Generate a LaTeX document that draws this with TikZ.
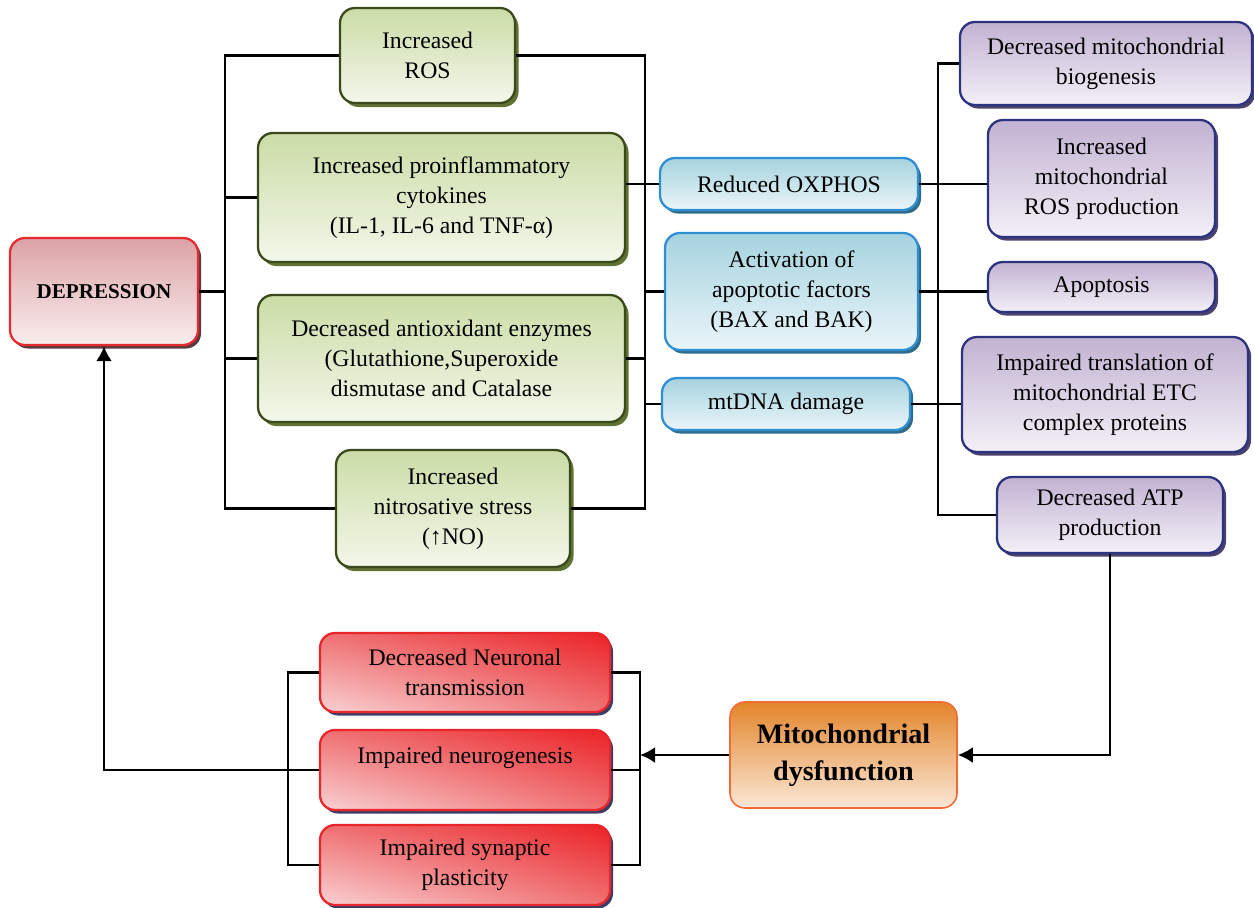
\documentclass[tikz,border=0pt]{standalone}
\usepackage{fontspec}
\setmainfont{Liberation Serif}
\usepackage{tikz}
\usetikzlibrary{arrows.meta,shadows,shadings}
\definecolor{grnline}{HTML}{3A4A1C}
\definecolor{grntop}{HTML}{CBDCA6}
\definecolor{grnbot}{HTML}{F3F7EA}
\definecolor{grnshad}{HTML}{5F7232}
\definecolor{bluline}{HTML}{2F8FD4}
\definecolor{blutop}{HTML}{A6D3DF}
\definecolor{blubot}{HTML}{EAF5F9}
\definecolor{blushad}{HTML}{2F6C8A}
\definecolor{purline}{HTML}{2C3480}
\definecolor{purtop}{HTML}{C2B2D2}
\definecolor{purbot}{HTML}{F3F0F7}
\definecolor{purshad}{HTML}{4B416E}
\definecolor{depline}{HTML}{E52A30}
\definecolor{deptop}{HTML}{DCA2A5}
\definecolor{depbot}{HTML}{F9EEEF}
\definecolor{depshad}{HTML}{5A3B3D}
\definecolor{redline}{HTML}{E8262B}
\definecolor{reddark}{HTML}{EC2227}
\definecolor{redmid}{HTML}{EF7173}
\definecolor{redlight}{HTML}{F9D2D4}
\definecolor{redshad}{HTML}{3E3D66}
\definecolor{orgline}{HTML}{F26A35}
\definecolor{orgtop}{HTML}{E3852A}
\definecolor{orgbot}{HTML}{FBE7D6}
\tikzset{
  box/.style={rounded corners=3mm, line width=1.3pt, align=center, inner sep=2pt,
    font=\fontsize{13.5}{17}\selectfont},
  gbox/.style={box, draw=grnline, top color=grntop, bottom color=grnbot,
    drop shadow={shadow xshift=0.7mm, shadow yshift=-0.8mm, fill=grnshad, opacity=1}},
  bbox/.style={box, draw=bluline, top color=blutop, bottom color=blubot,
    drop shadow={shadow xshift=0.6mm, shadow yshift=-0.7mm, fill=blushad, opacity=1}},
  pbox/.style={box, draw=purline, top color=purtop, bottom color=purbot,
    drop shadow={shadow xshift=0.6mm, shadow yshift=-0.7mm, fill=purshad, opacity=1}},
  depbox/.style={box, draw=depline, top color=deptop, bottom color=depbot,
    font=\fontsize{12}{15}\selectfont\bfseries,
    drop shadow={shadow xshift=0.6mm, shadow yshift=-0.7mm, fill=depshad, opacity=1}},
  rbox/.style={box, draw=redline, upper right=reddark, upper left=redmid,
    lower right=redmid, lower left=redlight,
    drop shadow={shadow xshift=0.6mm, shadow yshift=-0.7mm, fill=redshad, opacity=1}},
  obox/.style={box, line width=0.9pt, draw=orgline, top color=orgtop, bottom color=orgbot,
    font=\fontsize{16}{21}\selectfont\bfseries},
  link/.style={line width=1.4pt},
  arr/.style={link, -{Latex[length=3mm,width=3.2mm]}}
}

\begin{document}
\begin{tikzpicture}[x=0.2mm,y=-0.2mm]
  \useasboundingbox (0,0) rectangle (1254,907);

  % causes
  \node[depbox, minimum width=37.6mm, minimum height=21.4mm] (dep) at (104,291.5) {DEPRESSION};
  \node[gbox, minimum width=35mm, minimum height=19mm] (ros) at (427.5,55.5) {Increased\\ROS};
  \node[gbox, minimum width=73.4mm, minimum height=25.8mm] (cyt) at (441.5,197.5)
    {Increased proinflammatory\\cytokines\\(IL-1, IL-6 and TNF-α)};
  \node[gbox, minimum width=73.4mm, minimum height=25.4mm] (antiox) at (441.5,358.5)
    {Decreased antioxidant enzymes\\(Glutathione,Superoxide\\dismutase and Catalase};
  \node[gbox, minimum width=46.8mm, minimum height=23.4mm] (nitro) at (453,508.5)
    {Increased\\nitrosative stress\\(\textbf{↑}NO)};

  % mitochondrial effects
  \node[bbox, minimum width=51.6mm, minimum height=10.4mm] (oxphos) at (789,184) {Reduced OXPHOS};
  \node[bbox, minimum width=50.6mm, minimum height=23.4mm] (act) at (791.5,291.5)
    {Activation of\\apoptotic factors\\(BAX and BAK)};
  \node[bbox, minimum width=49.6mm, minimum height=10.4mm] (mtdna) at (786,404) {mtDNA damage};

  \node[pbox, minimum width=58.4mm, minimum height=16.6mm] (bio) at (1106,63.5)
    {Decreased mitochondrial\\biogenesis};
  \node[pbox, minimum width=45.4mm, minimum height=23.4mm] (rosprod) at (1101.5,178.5)
    {Increased\\mitochondrial\\ROS production};
  \node[pbox, minimum width=45.4mm, minimum height=10mm] (apop) at (1101.5,287) {Apoptosis};
  \node[pbox, minimum width=57.2mm, minimum height=23mm] (transl) at (1105,394.5)
    {Impaired translation of\\mitochondrial ETC\\complex proteins};
  \node[pbox, minimum width=45.2mm, minimum height=15.2mm] (atp) at (1110,515)
    {Decreased ATP\\production};

  \node[obox, minimum width=45.4mm, minimum height=21.2mm] (mito) at (843.5,755)
    {Mitochondrial\\dysfunction};

  % neuronal outcomes
  \node[rbox, minimum width=58mm, minimum height=15.8mm] (neu) at (465,672.5)
    {Decreased Neuronal\\transmission};
  \node[rbox, minimum width=58mm, minimum height=16mm] (gen) at (465,770)
    {Impaired neurogenesis\\~};
  \node[rbox, minimum width=58mm, minimum height=16mm] (syn) at (465,865)
    {Impaired synaptic\\plasticity};

  % bracket positions
  \coordinate (bl) at (225,0);
  \coordinate (br) at (645,0);
  \coordinate (bm) at (938,0);
  \coordinate (nl) at (288,0);
  \coordinate (nr) at (640,0);

  \draw[link] (dep.east) -- (dep.east -| bl);
  \draw[link] (ros.west) -- (ros.west -| bl) -- (nitro.west -| bl) -- (nitro.west);
  \draw[link] (cyt.west) -- (cyt.west -| bl);
  \draw[link] (antiox.west) -- (antiox.west -| bl);

  \draw[link] (ros.east) -- (ros.east -| br) -- (nitro.east -| br) -- (nitro.east);
  \draw[link] (oxphos.west -| cyt.east) -- (oxphos.west);
  \draw[link] (antiox.east) -- (antiox.east -| br);
  \draw[link] (act.west -| br) -- (act.west);
  \draw[link] (mtdna.west -| br) -- (mtdna.west);

  \draw[link] (bio.west) -- (bio.west -| bm) -- (atp.west -| bm) -- (atp.west);
  \draw[link] (oxphos.east) -- (oxphos.east -| rosprod.west);
  \draw[link] (act.east) -- (act.east -| apop.west);
  \draw[link] (mtdna.east) -- (mtdna.east -| transl.west);

  \draw[arr] (atp.south) |- (mito.east);
  \draw[arr] (mito.west) -- (mito.west -| nr);

  \draw[link] (neu.west) -- (neu.west -| nl) -- (syn.west -| nl) -- (syn.west);
  \draw[link] (gen.west) -- (gen.west -| nl);
  \draw[link] (neu.east) -- (neu.east -| nr) -- (syn.east -| nr) -- (syn.east);
  \draw[link] (gen.east) -- (gen.east -| nr);

  \draw[arr] (gen.west -| nl) -| (dep.south);
\end{tikzpicture}
\end{document}
